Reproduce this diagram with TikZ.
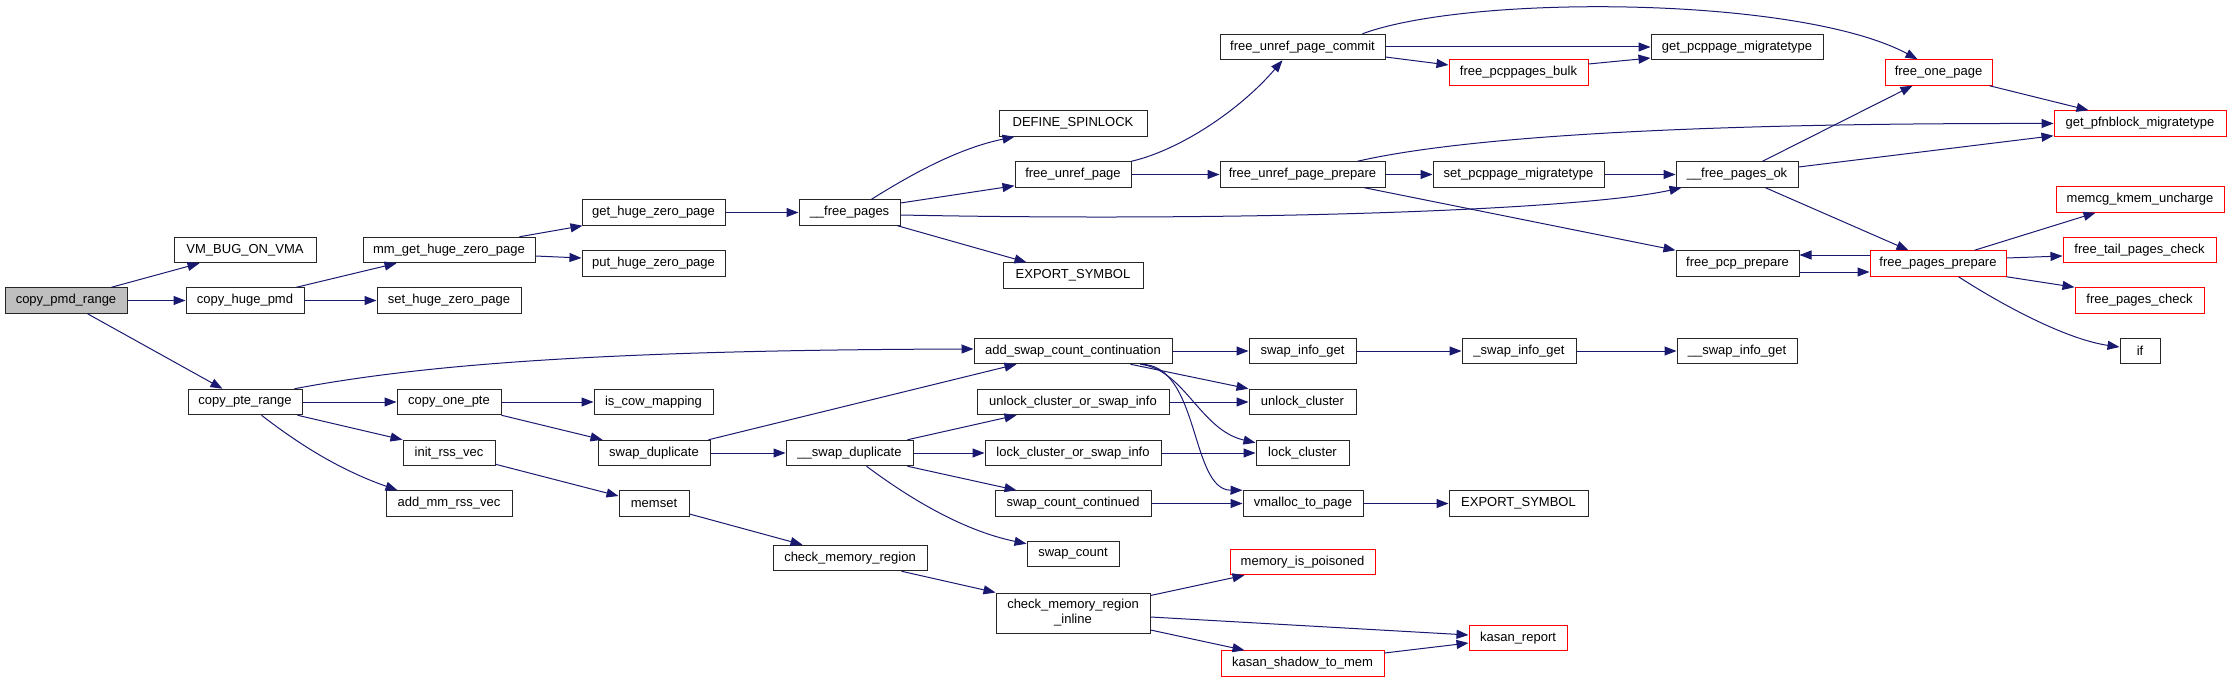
\documentclass[tikz,border=0pt]{standalone}
\usepackage{fontspec}
\setmainfont{Liberation Sans}
\usetikzlibrary{arrows.meta}
\definecolor{edgec}{HTML}{191970}
\definecolor{greyfill}{HTML}{BFBFBF}
\definecolor{boxc}{HTML}{262626}
\begin{document}
\begin{tikzpicture}[x=1pt,y=-1pt,
 fn/.style={draw=boxc, line width=1pt, fill=white, rectangle, minimum height=25.5pt, inner sep=0pt, font=\fontsize{13}{15}\selectfont},
 redfn/.style={fn, draw=red},
 rootfn/.style={fn, fill=greyfill},
 e/.style={draw=edgec, line width=1pt, -{Triangle[length=12pt,width=9pt]}}]
\useasboundingbox (0,0) rectangle (2231,682);

% nodes
\node[rootfn, minimum width=122pt] (cpr) at (66,300.5) {copy\_pmd\_range};
\node[fn, minimum width=142pt] (vm) at (245,250) {VM\_BUG\_ON\_VMA};
\node[fn, minimum width=118pt] (chp) at (245,300.5) {copy\_huge\_pmd};
\node[fn, minimum width=114pt] (ptr) at (245,402) {copy\_pte\_range};
\node[fn, minimum width=172pt] (mgz) at (449,250) {mm\_get\_huge\_zero\_page};
\node[fn, minimum width=144pt] (shz) at (449,300.5) {set\_huge\_zero\_page};
\node[fn, minimum width=143pt] (ghz) at (653.5,212.5) {get\_huge\_zero\_page};
\node[fn, minimum width=143pt] (phz) at (653.5,263.5) {put\_huge\_zero\_page};
\node[fn, minimum width=104pt] (cop) at (449,402) {copy\_one\_pte};
\node[fn, minimum width=92pt] (irv) at (449,453) {init\_rss\_vec};
\node[fn, minimum width=126pt] (amr) at (449,503.5) {add\_mm\_rss\_vec};
\node[fn, minimum width=119pt] (icm) at (653.5,402) {is\_cow\_mapping};
\node[fn, minimum width=112pt] (sd) at (654,453) {swap\_duplicate};
\node[fn, minimum width=70pt] (ms) at (654,503.5) {memset};
\node[fn, minimum width=101pt] (fp) at (849.5,212.5) {\_\_free\_pages};
\node[fn, minimum width=148pt] (ds) at (1073,123.5) {DEFINE\_SPINLOCK};
\node[fn, minimum width=116pt] (fup) at (1073,174.5) {free\_unref\_page};
\node[fn, minimum width=140pt] (es1) at (1073,275.5) {EXPORT\_SYMBOL};
\node[fn, minimum width=198pt] (ascc) at (1073,351) {add\_swap\_count\_continuation};
\node[fn, minimum width=192pt] (ucsi) at (1073,402) {unlock\_cluster\_or\_swap\_info};
\node[fn, minimum width=127pt] (sdd) at (849.5,453) {\_\_swap\_duplicate};
\node[fn, minimum width=176pt] (lcsi) at (1073,453) {lock\_cluster\_or\_swap\_info};
\node[fn, minimum width=156pt] (scc) at (1073,503.5) {swap\_count\_continued};
\node[fn, minimum width=92pt] (sc) at (1073,554) {swap\_count};
\node[fn, minimum width=154pt] (cmr) at (850,558) {check\_memory\_region};
\node[fn, minimum width=154pt, minimum height=40pt, align=center] (cmri) at (1073,613) {check\_memory\_region\\\_inline};
\node[fn, minimum width=165pt] (fupc) at (1302.5,47) {free\_unref\_page\_commit};
\node[redfn, minimum width=139pt] (fpb) at (1518.5,72.5) {free\_pcppages\_bulk};
\node[fn, minimum width=165pt] (fupp) at (1302.5,174.5) {free\_unref\_page\_prepare};
\node[fn, minimum width=171pt] (spm) at (1518.5,174.5) {set\_pcppage\_migratetype};
\node[fn, minimum width=107pt] (sig) at (1302.5,351) {swap\_info\_get};
\node[fn, minimum width=114pt] (usig) at (1519,351) {\_swap\_info\_get};
\node[fn, minimum width=107pt] (uc) at (1302.5,402) {unlock\_cluster};
\node[fn, minimum width=93pt] (lc) at (1302.5,453) {lock\_cluster};
\node[fn, minimum width=120pt] (vtp) at (1303,503.5) {vmalloc\_to\_page};
\node[fn, minimum width=139pt] (es2) at (1518.5,503.5) {EXPORT\_SYMBOL};
\node[redfn, minimum width=145pt] (mip) at (1302.5,562) {memory\_is\_poisoned};
\node[redfn, minimum width=163pt] (kstm) at (1302.5,663.5) {kasan\_shadow\_to\_mem};
\node[redfn, minimum width=98pt] (kr) at (1518,638) {kasan\_report};
\node[fn, minimum width=172pt] (gpm) at (1737,47) {get\_pcppage\_migratetype};
\node[fn, minimum width=122pt] (fpo) at (1737,174.5) {\_\_free\_pages\_ok};
\node[fn, minimum width=123pt] (fpcp) at (1737.5,263.5) {free\_pcp\_prepare};
\node[fn, minimum width=120pt] (uusig) at (1737,351) {\_\_swap\_info\_get};
\node[redfn, minimum width=107pt] (fop) at (1938.5,72.5) {free\_one\_page};
\node[redfn, minimum width=172pt] (gpbm) at (2140,123.5) {get\_pfnblock\_migratetype};
\node[redfn, minimum width=168pt] (mku) at (2140,199.5) {memcg\_kmem\_uncharge};
\node[redfn, minimum width=136pt] (fpp) at (1938,263.5) {free\_pages\_prepare};
\node[redfn, minimum width=153pt] (ftpc) at (2139.5,250) {free\_tail\_pages\_check};
\node[redfn, minimum width=129pt] (fpc) at (2139.5,300.5) {free\_pages\_check};
\node[fn, minimum width=40pt] (iff) at (2140,351) {if};

% edges
\draw[e] ([xshift=107pt]cpr.north west) -- ([xshift=26pt]vm.south west);
\draw[e] (cpr.east) -- (chp.west);
\draw[e] ([xshift=83pt]cpr.south west) -- ([xshift=35pt]ptr.north west);
\draw[e] ([xshift=111pt]chp.north west) -- ([xshift=34pt]mgz.south west);
\draw[e] (chp.east) -- (shz.west);
\draw[e] ([xshift=157pt]mgz.north west) -- ([xshift=1pt]ghz.south west);
\draw[e] ([yshift=-6pt]mgz.east) -- ([yshift=5.5pt]phz.west);
\draw[e] (ghz.east) -- (fp.west);
\draw[e] ([xshift=73pt]fp.north west) .. controls (915,172) and (960,148) .. ([xshift=16pt]ds.south west);
\draw[e] ([yshift=9.5pt]fp.east) -- ([yshift=2pt]fup.south west);
\draw[e] ([yshift=-2.5pt]fp.east) .. controls (1250,222) and (1580,210) .. ([xshift=6pt]fpo.south west);
\draw[e] ([xshift=-3pt]fp.south east) -- ([xshift=24pt]es1.north west);
\draw[e] (fup.north east) .. controls (1180,150) and (1240,110) .. ([xshift=63pt]fupc.south west);
\draw[e] (fup.east) -- (fupp.west);
\draw[e] ([xshift=143pt]fupc.north west) .. controls (1470,-6) and (1800,-4) .. ([xshift=33pt]fop.north west);
\draw[e] (fupc.east) -- (gpm.west);
\draw[e] ([yshift=-10pt]fupc.east) -- ([yshift=7.5pt]fpb.west);
\draw[e] ([yshift=8.5pt]fpb.east) -- ([yshift=-11pt]gpm.west);
\draw[e] (fupp.east) -- (spm.west);
\draw[e] ([xshift=138pt]fupp.north west) .. controls (1450,140) and (1650,123) .. (gpbm.west);
\draw[e] ([xshift=145pt]fupp.south west) -- (fpcp.north west);
\draw[e] (spm.east) -- (fpo.west);
\draw[e] ([xshift=87pt]fpo.north west) -- ([xshift=28pt]fop.south west);
\draw[e] ([yshift=7.5pt]fpo.east) -- ([yshift=1pt]gpbm.south west);
\draw[e] ([xshift=90pt]fpo.south west) -- ([xshift=39pt]fpp.north west);
\draw[e] ([xshift=-3pt]fop.south east) -- ([xshift=35pt]gpbm.north west);
\draw[e] ([yshift=-8.5pt]fpcp.east) -- ([yshift=-8.5pt]fpp.west);
\draw[e] ([yshift=8.5pt]fpp.west) -- ([yshift=8.5pt]fpcp.east);
\draw[e] ([xshift=105pt]fpp.north west) -- ([xshift=40pt]mku.south west);
\draw[e] ([yshift=5.5pt]fpp.east) -- ([yshift=-6pt]ftpc.west);
\draw[e] (fpp.south east) -- (fpc.north west);
\draw[e] ([xshift=89pt]fpp.south west) .. controls (2010,310) and (2070,340) .. ([yshift=4pt]iff.west);
\draw[e] ([xshift=107pt]ptr.north west) .. controls (420,365) and (600,350) .. ([yshift=2pt]ascc.west);
\draw[e] (ptr.east) -- (cop.west);
\draw[e] ([xshift=-5pt]ptr.south east) -- (irv.north west);
\draw[e] ([xshift=74pt]ptr.south west) .. controls (300,445) and (340,470) .. ([xshift=12pt]amr.north west);
\draw[e] (cop.east) -- (icm.west);
\draw[e] (cop.south east) -- ([xshift=5pt]sd.north west);
\draw[e] ([yshift=2pt]irv.south east) -- ([yshift=7.5pt]ms.west);
\draw[e] ([xshift=-2pt]sd.north east) -- ([xshift=43pt]ascc.south west);
\draw[e] (sd.east) -- (sdd.west);
\draw[e] ([yshift=-10.5pt]ms.east) -- ([xshift=30pt]cmr.north west);
\draw[e] ([xshift=-6pt]sdd.north east) -- ([xshift=40pt]ucsi.south west);
\draw[e] (sdd.east) -- (lcsi.west);
\draw[e] ([xshift=-6pt]sdd.south east) -- ([xshift=22pt]scc.north west);
\draw[e] ([xshift=81pt]sdd.south west) .. controls (905,495) and (960,530) .. ([yshift=-3pt]sc.north west);
\draw[e] ([xshift=129pt]cmr.south west) -- (cmri.north west);
\draw[e] (ascc.east) -- (sig.west);
\draw[e] ([xshift=-42pt]ascc.south east) -- (uc.north west);
\draw[e] ([xshift=-32pt]ascc.south east) .. controls (1185,370) and (1200,430) .. ([yshift=-3pt]lc.north west);
\draw[e] ([xshift=-32pt]ascc.south east) .. controls (1200,364) and (1190,490) .. (vtp.north west);
\draw[e] (ucsi.east) -- (uc.west);
\draw[e] (lcsi.east) -- (lc.west);
\draw[e] (scc.east) -- (vtp.west);
\draw[e] (vtp.east) -- (es2.west);
\draw[e] (sig.east) -- (usig.west);
\draw[e] (usig.east) -- (uusig.west);
\draw[e] ([yshift=-3pt]cmri.north east) -- ([xshift=15pt]mip.south west);
\draw[e] ([yshift=-4pt]cmri.east) -- ([yshift=3pt]kr.west);
\draw[e] ([yshift=-17pt]cmri.east) -- ([xshift=24pt]kstm.north west);
\draw[e] ([yshift=10.5pt]kstm.east) -- ([yshift=-5pt]kr.west);
\end{tikzpicture}
\end{document}
